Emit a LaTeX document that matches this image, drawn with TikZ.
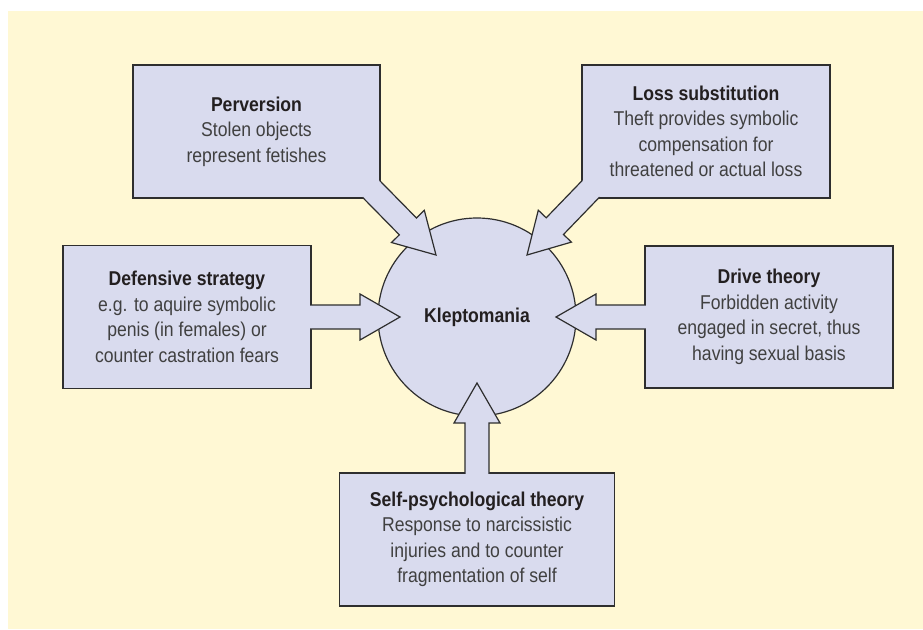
\documentclass[tikz,border=0pt]{standalone}
\usepackage{fontspec}
\setmainfont{Liberation Sans}[FakeStretch=0.88]
\usetikzlibrary{positioning, calc}
\definecolor{paper}{HTML}{FFF8D4}
\definecolor{lilac}{HTML}{D9DBEE}
\definecolor{edge}{HTML}{2E2E2E}
\definecolor{ink}{HTML}{231F20}
\definecolor{greyink}{HTML}{404040}
\newcommand{\heading}[1]{{\bfseries\color{ink}#1}}
\tikzset{
  theory/.style={rectangle, draw=edge, fill=lilac, line width=1.2pt, outer sep=0pt, minimum width=248pt, minimum height=133pt, align=center, text=greyink, font=\fontsize{20}{25.5}\selectfont},
  core/.style={circle, draw=edge, fill=lilac, line width=1.2pt, outer sep=0pt, inner sep=0pt, minimum size=198pt, text=ink, font=\bfseries\fontsize{20}{25.5}\selectfont},
  fatarrow/.style={draw=edge, fill=lilac, line width=1.2pt,
    to path={let \p1=(\tikztostart), \p2=(\tikztotarget), \n1={atan2(\y2-\y1,\x2-\x1)}, \n2={veclen(\x2-\x1,\y2-\y1)} in
      ([shift={(\p1)},rotate=\n1]-#1-0.8,12) -- ([shift={(\p1)},rotate=\n1]\n2-40,12)
      -- ([shift={(\p1)},rotate=\n1]\n2-40,23) -- (\tikztotarget)
      -- ([shift={(\p1)},rotate=\n1]\n2-40,-23) -- ([shift={(\p1)},rotate=\n1]\n2-40,-12)
      -- ([shift={(\p1)},rotate=\n1]-#1-0.8,-12)}},
  fatarrow/.default=0
}

\begin{document}
\begin{tikzpicture}[x=1pt, y=-1pt]

  \useasboundingbox (0,0) rectangle (923,629);
  \fill[paper] (8,11) rectangle (923,629);

  \node (klepto) [core] at (477,317) {Kleptomania};
  \node (perv) [theory, minimum width=247pt, above left=49pt and 27pt of klepto] {\heading{Perversion}\\Stolen objects\\represent fetishes};
  \node (loss) [theory, above right=49pt and 35pt of klepto] {\heading{Loss substitution}\\Theft provides symbolic\\compensation for\\threatened or actual loss};
  \node (defense) [theory, minimum height=143pt, left=67pt of klepto] {\heading{Defensive strategy}\\e.g. to aquire symbolic\\penis (in females) or\\counter castration fears};
  \node (drive) [theory, minimum height=142pt, right=69pt of klepto] {\heading{Drive theory}\\Forbidden activity\\engaged in secret, thus\\having sexual basis};
  \node (self) [theory, minimum width=275pt, below=57pt of klepto] {\heading{Self-psychological theory}\\Response to narcissistic\\injuries and to counter\\fragmentation of self};

  % arrow tips sit inside the circle
  \coordinate (pervtip) at (436,255);
  \coordinate (losstip) at (527,255);
  \coordinate (deftip) at (400,317);
  \coordinate (drivetip) at (556,317);
  \coordinate (selftip) at (477,383);

  \draw [fatarrow=12] (perv.south east) to (pervtip);
  \draw [fatarrow=12] (loss.south west) to (losstip);
  \draw [fatarrow] (defense.east) to (deftip);
  \draw [fatarrow] (drive.west) to (drivetip);
  \draw [fatarrow] (self.north) to (selftip);

\end{tikzpicture}
\end{document}
